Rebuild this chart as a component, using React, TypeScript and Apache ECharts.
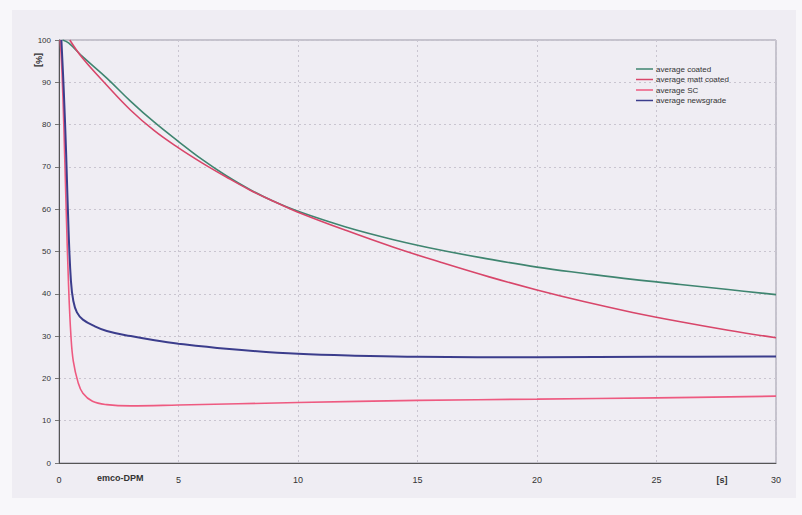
import React, { useEffect, useRef } from "react";
import * as echarts from "echarts";

const seriesNames = ["average coated", "average matt coated", "average SC", "average newsgrade"];
const seriesColors = ["#3f8570", "#d8466a", "#ee5a80", "#3b3d8c"];

const coated: [number, number][] = [
  [0.15, 100], [0.4, 99.3], [1, 96], [2, 91], [3, 85.5], [4, 80.5], [5, 76], [6, 71.7], [7, 67.9],
  [8, 64.6], [9, 61.8], [10, 59.5], [12, 55.8], [14, 52.8], [16, 50.3], [18, 48.2], [20, 46.3],
  [22, 44.8], [24, 43.4], [26, 42.2], [28, 41], [30, 39.8],
];
const mattCoated: [number, number][] = [
  [0.45, 100], [1, 95.6], [2, 89.3], [3, 83.4], [4, 78.5], [5, 74.5], [6, 70.9], [7, 67.6], [8, 64.5],
  [9, 61.8], [10, 59.3], [12, 55], [14, 51], [16, 47.4], [18, 44], [20, 40.9], [22, 38.1], [24, 35.6],
  [26, 33.4], [28, 31.4], [30, 29.6],
];
const sc: [number, number][] = [
  [0.05, 100], [0.12, 93], [0.2, 80], [0.3, 60], [0.4, 42], [0.5, 30], [0.6, 24], [0.8, 19],
  [1, 16.5], [1.4, 14.6], [2, 13.8], [3, 13.5], [5, 13.7], [10, 14.3], [15, 14.8], [20, 15.1],
  [25, 15.4], [30, 15.8],
];
const newsgrade: [number, number][] = [
  [0.1, 100], [0.2, 88], [0.3, 73], [0.4, 55], [0.5, 43], [0.6, 38.3], [0.75, 35.6], [1, 33.9],
  [1.5, 32.3], [2, 31.2], [3, 30], [4, 29], [5, 28.2], [7, 27], [10, 25.8], [13, 25.3], [15, 25.1],
  [20, 25], [25, 25.1], [30, 25.2],
];
const allData = [coated, mattCoated, sc, newsgrade];

const xTicks = [0, 5, 10, 15, 20, 25, 30];
const yTicks = [0, 10, 20, 30, 40, 50, 60, 70, 80, 90, 100];

const FONT = "Liberation Sans, Arial, sans-serif";

export default function App() {
  const ref = useRef<HTMLDivElement>(null);
  useEffect(() => {
    if (!ref.current) return;
    const chart = echarts.init(ref.current, null, { renderer: "svg" });
    chart.setOption({
      animation: false,
      backgroundColor: "#f8f7fa",
      graphic: [
        { type: "rect", z: -10, shape: { x: 12, y: 10, width: 784, height: 488 }, style: { fill: "#efedf3" } },
        { type: "text", x: 39, y: 60, rotation: -Math.PI / 2, style: { text: "[%]", fontSize: 9, fontWeight: "bold", fill: "#333", fontFamily: FONT, align: "center", verticalAlign: "middle" } },
        { type: "text", x: 97, y: 478, style: { text: "emco-DPM", fontSize: 9, fontWeight: "bold", fill: "#333", fontFamily: FONT, verticalAlign: "middle" } },
        { type: "text", x: 722, y: 480, style: { text: "[s]", fontSize: 9, fontWeight: "bold", fill: "#333", fontFamily: FONT, align: "center", verticalAlign: "middle" } },
      ],
      grid: { left: 59, top: 40, right: 26, bottom: 52, show: true, borderColor: "#9a98a6", borderWidth: 1, backgroundColor: "transparent" },
      legend: {
        data: seriesNames,
        orient: "vertical",
        left: 631,
        top: 60,
        icon: "rect",
        itemWidth: 17,
        itemHeight: 1.5,
        itemGap: 2.5,
        textStyle: { fontSize: 8, color: "#333", fontFamily: FONT, padding: [0, 0, 0, -2] },
      },
      xAxis: {
        type: "value",
        min: xTicks[0],
        max: xTicks[xTicks.length - 1],
        interval: 5,
        axisLine: { lineStyle: { color: "#555", width: 1 } },
        axisTick: { show: false },
        axisLabel: { fontSize: 9, color: "#333", fontFamily: FONT, margin: 12 },
        splitLine: { show: true, lineStyle: { color: "#c9c5d0", type: [2, 3] } },
      },
      yAxis: {
        type: "value",
        min: yTicks[0],
        max: yTicks[yTicks.length - 1],
        interval: 10,
        axisLine: { show: true, lineStyle: { color: "#555", width: 1 } },
        axisTick: { show: true, length: 4, lineStyle: { color: "#777" } },
        axisLabel: { fontSize: 8, color: "#333", fontFamily: FONT, margin: 8 },
        splitLine: { show: true, lineStyle: { color: "#c9c5d0", type: [2, 3] } },
      },
      series: allData.map((d, i) => ({
        name: seriesNames[i],
        type: "line",
        data: d,
        showSymbol: false,
        symbol: "none",
        smooth: 0.4,
        color: seriesColors[i],
        lineStyle: { width: i === 3 ? 2 : 1.6, color: seriesColors[i] },
      })),
    });
    return () => chart.dispose();
  }, []);
  return <div ref={ref} style={{ position: "fixed", left: 0, top: 0, width: 802, height: 515 }} />;
}
